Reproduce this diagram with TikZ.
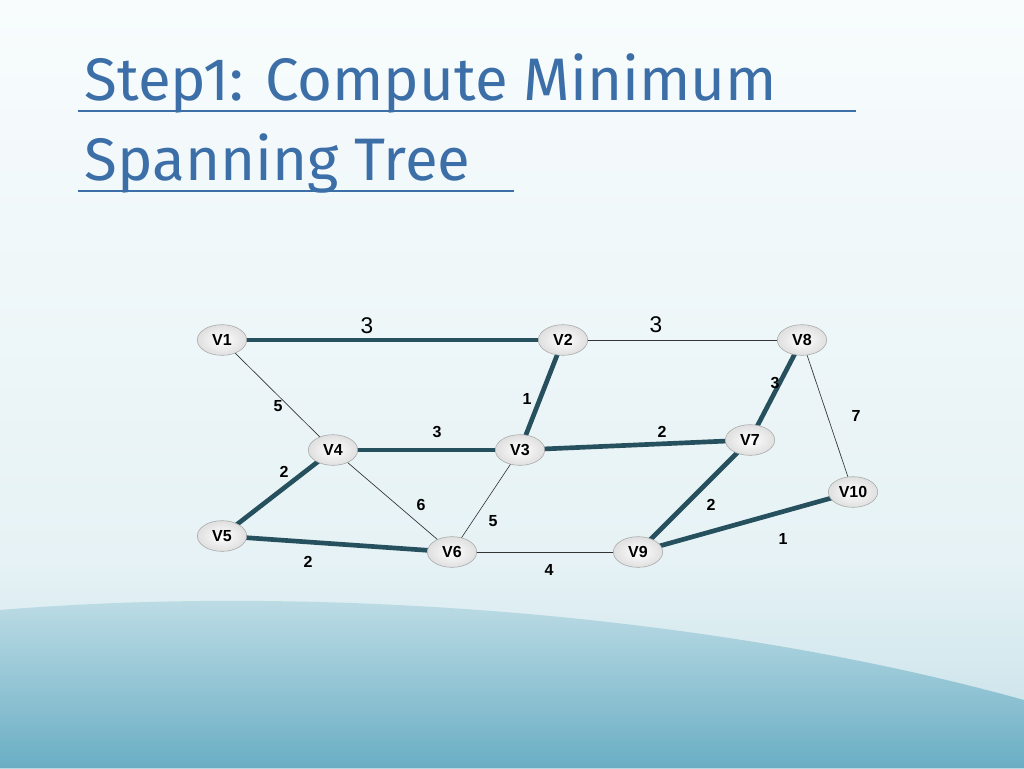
\documentclass[tikz,border=0pt]{standalone}
\usepackage{fontspec}
\setmainfont{Liberation Sans}
\newfontfamily\titlefont{Fira Sans}
\usetikzlibrary{shapes.geometric}
\definecolor{edgec}{HTML}{26505E}
\definecolor{titlec}{HTML}{3C6EA8}
\definecolor{bgtop}{HTML}{F8FCFD}
\definecolor{bgmid}{HTML}{E6F2F5}
\definecolor{bglow}{HTML}{C4E0E8}
\definecolor{bgbot}{HTML}{6AAEC4}
\begin{document}
\begin{tikzpicture}[x=0.75pt,y=-0.75pt,
  vtx/.style={ellipse,draw=gray!70,inner color=white,outer color=gray!25,minimum width=37pt,minimum height=23pt,inner sep=0pt,font=\bfseries\fontsize{12}{12}\selectfont},
  mst/.style={line width=3.5pt,draw=edgec},
  thin/.style={line width=0.5pt,draw=black!80},
  wl/.style={font=\bfseries\fontsize{12}{12}\selectfont},
  wb/.style={font=\fontsize{17}{17}\selectfont}]
\useasboundingbox (0,0) rectangle (1024,768);
\shade[top color=bgtop,bottom color=bgmid] (0,0) rectangle (1024,560);
\shade[top color=bgmid,bottom color=bglow] (0,560) rectangle (1024,768);
\shade[top color=bglow,bottom color=bgbot] (0,610) .. controls (300,585) and (700,610) .. (1024,700) -- (1024,768) -- (0,768) -- cycle;
\node[anchor=base west,text=titlec,font=\titlefont\fontsize{45}{45}\selectfont] (t1) at (80,100) {Step1: Compute Minimum};
\node[anchor=base west,text=titlec,font=\titlefont\fontsize{45}{45}\selectfont] (t2) at (80,180) {Spanning Tree};
\draw[titlec,line width=1.5pt] (78,111) -- (856,111);
\draw[titlec,line width=1.5pt] (78,191) -- (514,191);
\draw[mst] (222,340) -- (563,340);
\draw[thin] (563,340) -- (802,340);
\draw[mst] (563,340) -- (520,450);
\draw[thin] (222,340) -- (333,450);
\draw[mst] (333,450) -- (520,450);
\draw[mst] (520,450) -- (750,440);
\draw[mst] (802,340) -- (750,440);
\draw[thin] (802,340) -- (853,492);
\draw[mst] (333,450) -- (222,536);
\draw[thin] (333,450) -- (452,552);
\draw[thin] (520,450) -- (452,552);
\draw[mst] (222,536) -- (452,552);
\draw[thin] (452,552) -- (638,552);
\draw[mst] (750,440) -- (638,552);
\draw[mst] (638,552) -- (853,492);
\node[vtx] (v1) at (222,340) {V1};
\node[vtx] (v2) at (563,340) {V2};
\node[vtx] (v8) at (802,340) {V8};
\node[vtx] (v4) at (333,450) {V4};
\node[vtx] (v3) at (520,450) {V3};
\node[vtx] (v7) at (750,440) {V7};
\node[vtx] (v10) at (853,492) {V10};
\node[vtx] (v5) at (222,536) {V5};
\node[vtx] (v6) at (452,552) {V6};
\node[vtx] (v9) at (638,552) {V9};
\node[wb] (w12) at (367,326) {3};
\node[wb] (w28) at (656,325) {3};
\node[wl] (w87) at (775,383) {3};
\node[wl] (w810) at (856,416) {7};
\node[wl] (w23) at (527,399) {1};
\node[wl] (w14) at (278,406) {5};
\node[wl] (w43) at (437,432) {3};
\node[wl] (w37) at (662,432) {2};
\node[wl] (w45) at (284,472) {2};
\node[wl] (w46) at (421,505) {6};
\node[wl] (w36) at (493,521) {5};
\node[wl] (w79) at (711,505) {2};
\node[wl] (w910) at (783,539) {1};
\node[wl] (w56) at (308,562) {2};
\node[wl] (w69) at (549,570) {4};
\end{tikzpicture}
\end{document}
